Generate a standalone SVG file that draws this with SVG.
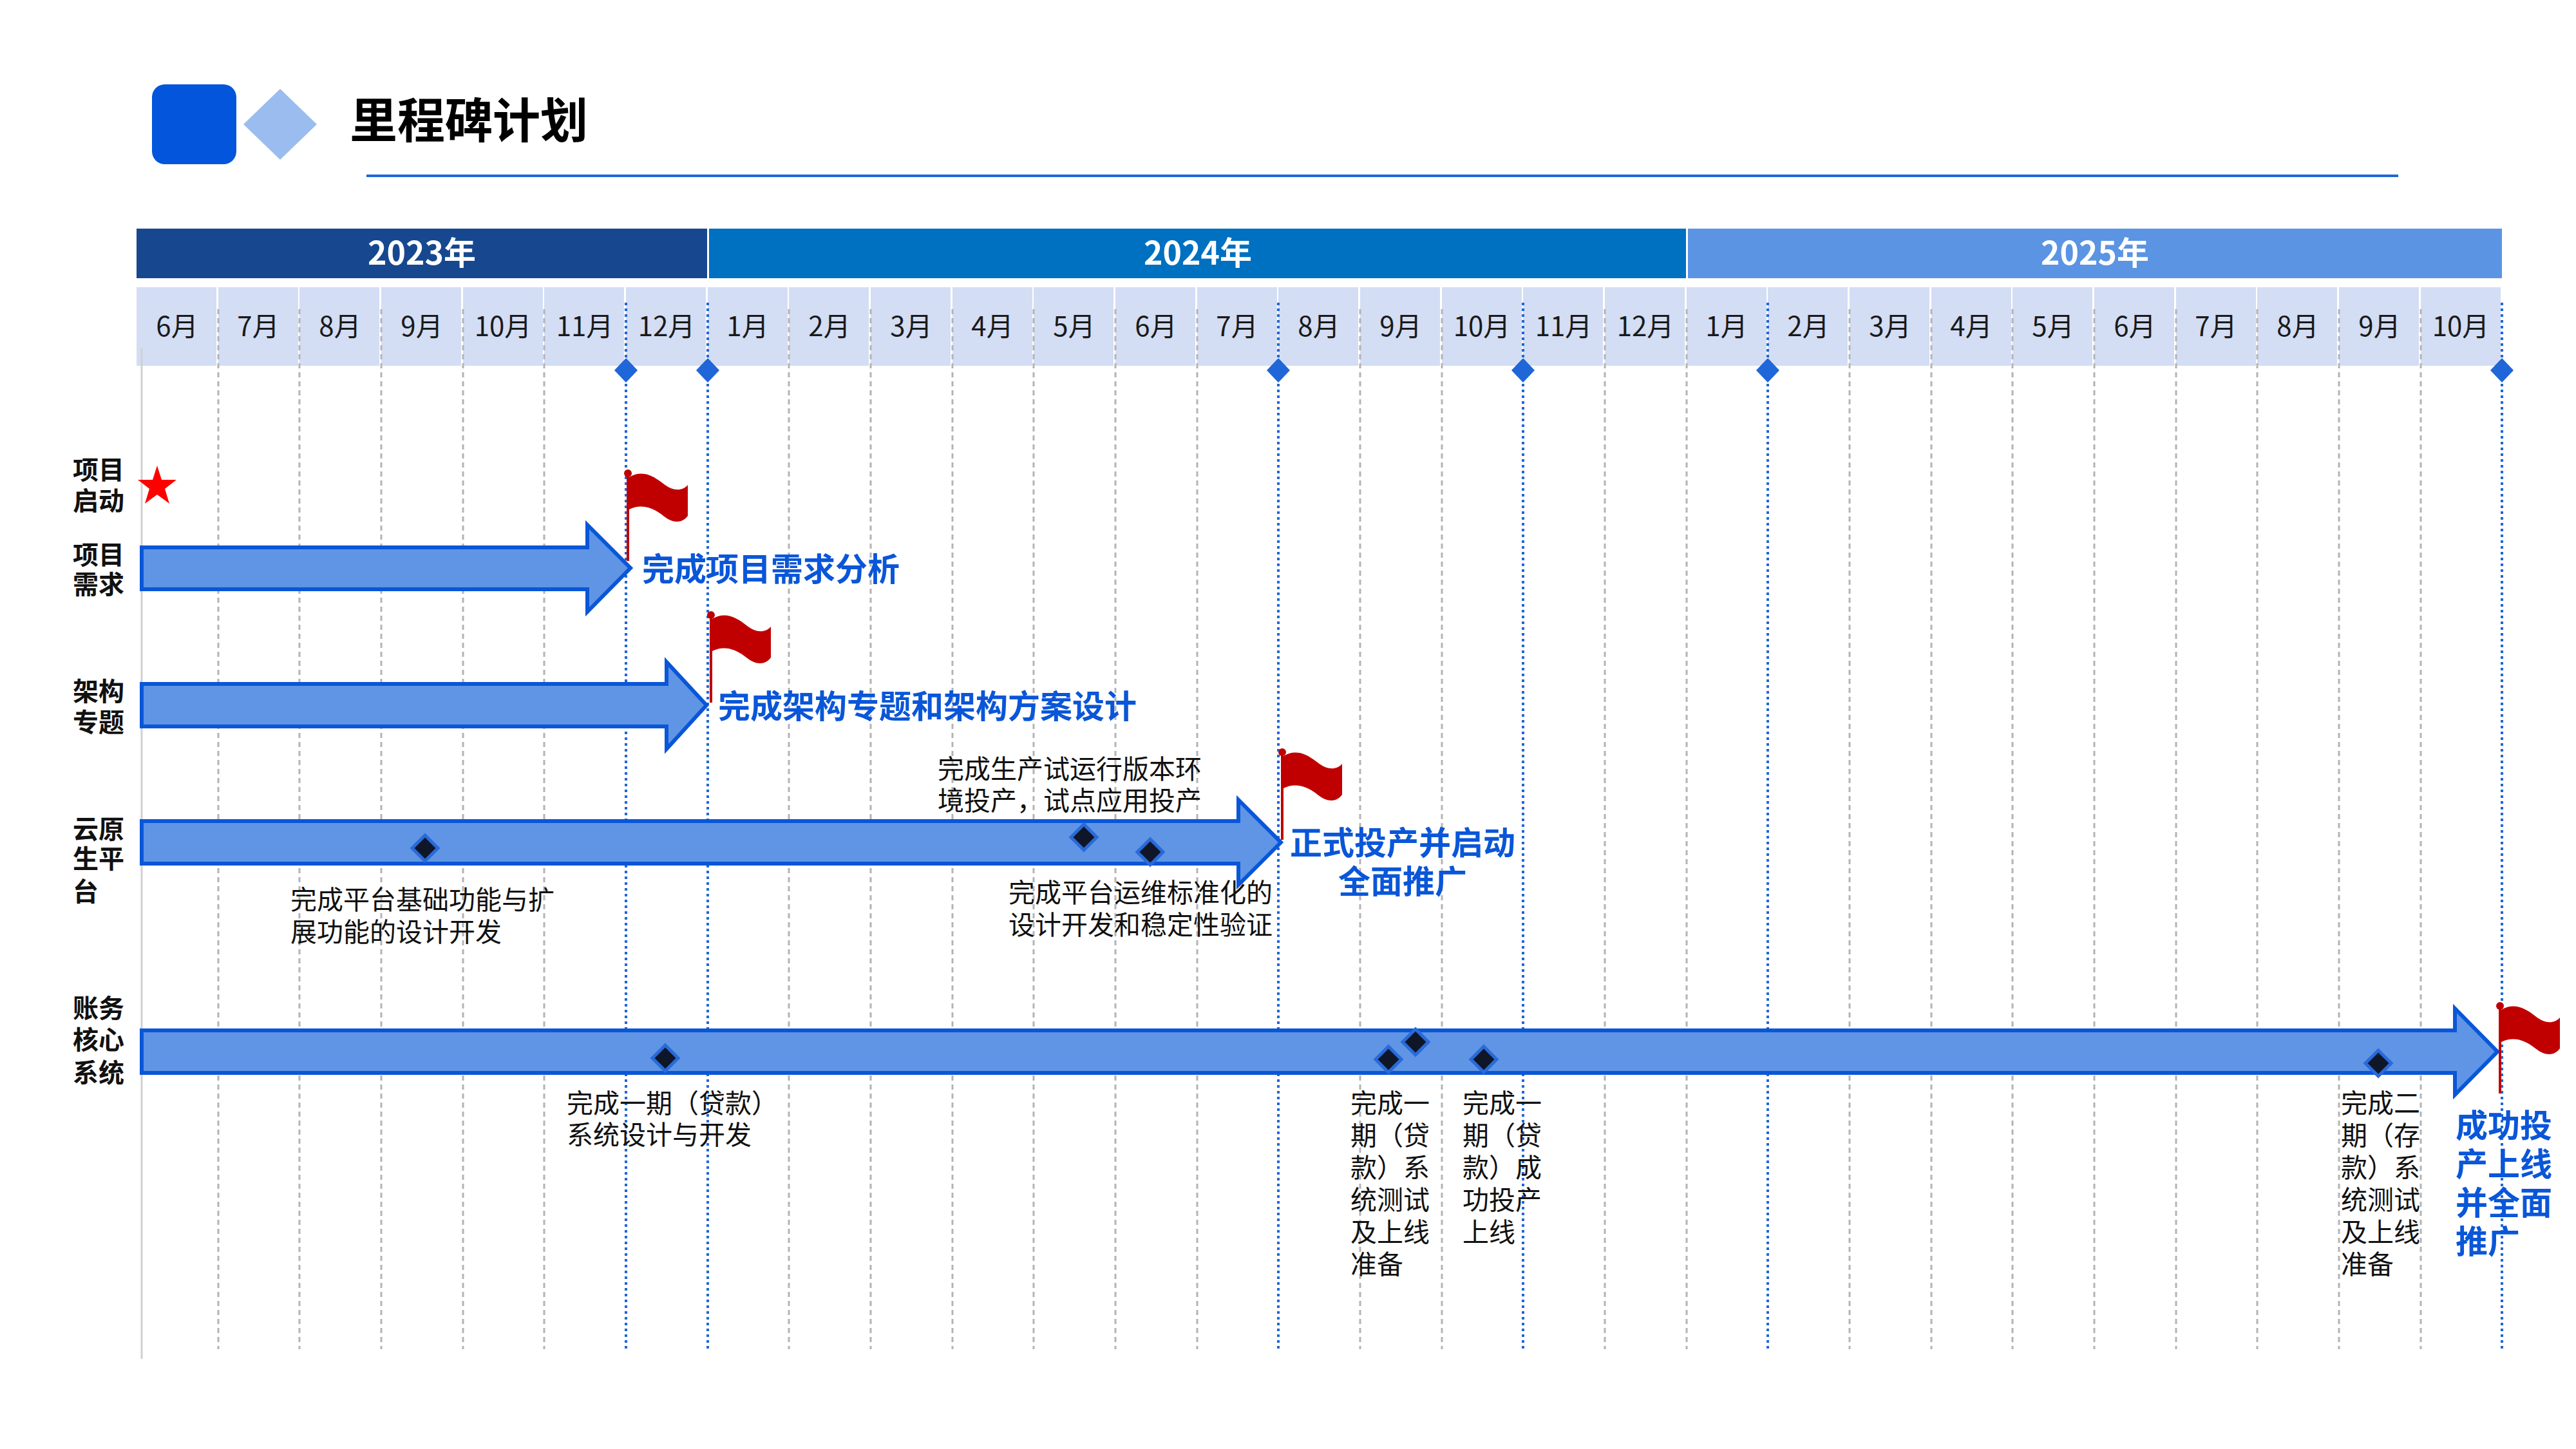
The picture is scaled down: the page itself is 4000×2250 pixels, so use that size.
<svg xmlns="http://www.w3.org/2000/svg" width="4000" height="2250" viewBox="0 0 4000 2250">
<style>
.mon{font-family:"Noto Sans CJK SC","Noto Sans",sans-serif;font-size:42px;fill:#1a1a1a;text-anchor:middle}
.yr{font-family:"Noto Sans CJK SC","Noto Sans",sans-serif;font-size:50px;font-weight:bold;fill:#fff;text-anchor:middle}
.row{font-family:"Noto Sans CJK SC",sans-serif;font-size:40px;font-weight:bold;fill:#111}
.note{font-family:"Noto Sans CJK SC",sans-serif;font-size:41px;fill:#111}
.ms{font-family:"Noto Sans CJK SC",sans-serif;font-size:50px;font-weight:bold;fill:#0a56d8}
.grid{stroke:#b4b4b4;stroke-width:3;stroke-dasharray:8 6}
.bl{stroke:#1f66d8;stroke-width:4;stroke-dasharray:4 5}
.arrow{fill:#5f95e4;stroke:#0a56d8;stroke-width:6;stroke-linejoin:miter}
.dm{fill:#0f1628;stroke:#2a6ad8;stroke-width:5}
.bd{fill:#1f66d8}
.cell{fill:#d3ddf4}
</style>
<defs>
<g id="flag">
<line x1="0" y1="0" x2="0" y2="138" stroke="#c00000" stroke-width="4"/>
<circle cx="0" cy="2" r="6" fill="#c00000"/>
<path d="M2,8 C22,-4 40,6 55,18 C70,30 84,30 93,20 L93,68 C84,80 70,80 55,68 C40,56 22,48 2,58 Z" fill="#c00000"/>
</g>
</defs>
<rect width="4000" height="2250" fill="#fff"/>
<g id="header">
<rect x="236" y="131" width="131" height="124" rx="20" fill="#0355db"/>
<polygon points="435,138 492,193 435,248 378,193" fill="#9bbcee"/>
<text x="543" y="214" font-family="Noto Sans CJK SC,sans-serif" font-size="74" font-weight="bold" fill="#000">里程碑计划</text>
<line x1="569" y1="273" x2="3724" y2="273" stroke="#1f66d8" stroke-width="4"/>
</g>
<g id="years">
<rect x="212" y="355" width="886" height="77" fill="#17488f"/>
<rect x="1101" y="355" width="1517" height="77" fill="#0070c0"/>
<rect x="2621" y="355" width="1264" height="77" fill="#5b94e3"/>
<text class="yr" x="655" y="411">2023年</text>
<text class="yr" x="1860" y="411">2024年</text>
<text class="yr" x="3253" y="411">2025年</text>
</g>
<g id="months">
<rect class="cell" x="212" y="446" width="124" height="122"/><text class="mon" x="275" y="522">6月</text>
<rect class="cell" x="339" y="446" width="124" height="122"/><text class="mon" x="401" y="522">7月</text>
<rect class="cell" x="465" y="446" width="124" height="122"/><text class="mon" x="528" y="522">8月</text>
<rect class="cell" x="592" y="446" width="124" height="122"/><text class="mon" x="655" y="522">9月</text>
<rect class="cell" x="719" y="446" width="124" height="122"/><text class="mon" x="781" y="522">10月</text>
<rect class="cell" x="845" y="446" width="124" height="122"/><text class="mon" x="908" y="522">11月</text>
<rect class="cell" x="972" y="446" width="124" height="122"/><text class="mon" x="1035" y="522">12月</text>
<rect class="cell" x="1099" y="446" width="124" height="122"/><text class="mon" x="1161" y="522">1月</text>
<rect class="cell" x="1225" y="446" width="124" height="122"/><text class="mon" x="1288" y="522">2月</text>
<rect class="cell" x="1352" y="446" width="124" height="122"/><text class="mon" x="1415" y="522">3月</text>
<rect class="cell" x="1479" y="446" width="124" height="122"/><text class="mon" x="1541" y="522">4月</text>
<rect class="cell" x="1605" y="446" width="124" height="122"/><text class="mon" x="1668" y="522">5月</text>
<rect class="cell" x="1732" y="446" width="124" height="122"/><text class="mon" x="1795" y="522">6月</text>
<rect class="cell" x="1859" y="446" width="124" height="122"/><text class="mon" x="1921" y="522">7月</text>
<rect class="cell" x="1985" y="446" width="124" height="122"/><text class="mon" x="2048" y="522">8月</text>
<rect class="cell" x="2112" y="446" width="124" height="122"/><text class="mon" x="2175" y="522">9月</text>
<rect class="cell" x="2239" y="446" width="124" height="122"/><text class="mon" x="2301" y="522">10月</text>
<rect class="cell" x="2365" y="446" width="124" height="122"/><text class="mon" x="2428" y="522">11月</text>
<rect class="cell" x="2492" y="446" width="124" height="122"/><text class="mon" x="2555" y="522">12月</text>
<rect class="cell" x="2619" y="446" width="124" height="122"/><text class="mon" x="2681" y="522">1月</text>
<rect class="cell" x="2745" y="446" width="124" height="122"/><text class="mon" x="2808" y="522">2月</text>
<rect class="cell" x="2872" y="446" width="124" height="122"/><text class="mon" x="2935" y="522">3月</text>
<rect class="cell" x="2999" y="446" width="124" height="122"/><text class="mon" x="3061" y="522">4月</text>
<rect class="cell" x="3125" y="446" width="124" height="122"/><text class="mon" x="3188" y="522">5月</text>
<rect class="cell" x="3252" y="446" width="124" height="122"/><text class="mon" x="3315" y="522">6月</text>
<rect class="cell" x="3379" y="446" width="124" height="122"/><text class="mon" x="3441" y="522">7月</text>
<rect class="cell" x="3505" y="446" width="124" height="122"/><text class="mon" x="3568" y="522">8月</text>
<rect class="cell" x="3632" y="446" width="124" height="122"/><text class="mon" x="3695" y="522">9月</text>
<rect class="cell" x="3759" y="446" width="124" height="122"/><text class="mon" x="3821" y="522">10月</text>
</g>
<g id="grid">
<line x1="220" y1="540" x2="220" y2="2110" stroke="#d0d0d0" stroke-width="3"/>
<path class="grid" d="M339,480V2095M465,480V2095M592,480V2095M719,480V2095M845,480V2095M1225,480V2095M1352,480V2095M1479,480V2095M1605,480V2095M1732,480V2095M1859,480V2095M2112,480V2095M2239,480V2095M2492,480V2095M2619,480V2095M2872,480V2095M2999,480V2095M3125,480V2095M3252,480V2095M3379,480V2095M3505,480V2095M3632,480V2095M3759,480V2095"/>
<path class="bl" d="M972,470V2095M1099,470V2095M1985,470V2095M2365,470V2095M2745,470V2095M3885,470V2095"/>
<polygon class="bd" points="972,556 990,575 972,594 954,575"/>
<polygon class="bd" points="1099,556 1117,575 1099,594 1081,575"/>
<polygon class="bd" points="1985,556 2003,575 1985,594 1967,575"/>
<polygon class="bd" points="2365,556 2383,575 2365,594 2347,575"/>
<polygon class="bd" points="2745,556 2763,575 2745,594 2727,575"/>
<polygon class="bd" points="3885,556 3903,575 3885,594 3867,575"/>
</g>
<g id="labels">
<text class="row" x="113" y="744">项目</text><text class="row" x="113" y="792">启动</text>
<text class="row" x="113" y="876">项目</text><text class="row" x="113" y="922">需求</text>
<text class="row" x="113" y="1088">架构</text><text class="row" x="113" y="1136">专题</text>
<text class="row" x="113" y="1302">云原</text><text class="row" x="113" y="1348">生平</text><text class="row" x="113" y="1399">台</text>
<text class="row" x="113" y="1580">账务</text><text class="row" x="113" y="1629">核心</text><text class="row" x="113" y="1680">系统</text>
</g>
<g id="start">
<polygon points="244,723 251,745 274,745 256,759 263,782 244,768 225,782 232,759 214,745 237,745" fill="#ff0000"/>
</g>
<g id="row-req">
<path class="arrow" d="M220,850H912V815L979,882L912,950V915H220Z"/>
<use href="#flag" x="975" y="733"/>
<text class="ms" x="997" y="902">完成项目需求分析</text>
</g>
<g id="row-arch">
<path class="arrow" d="M220,1062H1035V1028L1097,1095L1035,1163V1128H220Z"/>
<use href="#flag" x="1104" y="953"/>
<text class="ms" x="1115" y="1115">完成架构专题和架构方案设计</text>
</g>
<g id="row-cloud">
<path class="arrow" d="M220,1275H1923V1242L1989,1308L1923,1374V1341H220Z"/>
<use href="#flag" x="1991" y="1166"/>
<polygon class="dm" points="660,1297 680,1317 660,1337 640,1317"/>
<polygon class="dm" points="1683,1280 1703,1300 1683,1320 1663,1300"/>
<polygon class="dm" points="1786,1303 1806,1323 1786,1343 1766,1323"/>
<text class="note" x="451" y="1412">完成平台基础功能与扩</text>
<text class="note" x="451" y="1462">展功能的设计开发</text>
<text class="note" x="1456" y="1209">完成生产试运行版本环</text>
<text class="note" x="1456" y="1258">境投产，试点应用投产</text>
<text class="note" x="1566" y="1401">完成平台运维标准化的</text>
<text class="note" x="1566" y="1451">设计开发和稳定性验证</text>
<text class="ms" x="2178" y="1327" text-anchor="middle">正式投产并启动</text>
<text class="ms" x="2178" y="1387" text-anchor="middle">全面推广</text>
</g>
<g id="row-core">
<path class="arrow" d="M220,1600H3812V1566L3878,1633L3812,1700V1666H220Z"/>
<use href="#flag" x="3882" y="1560"/>
<polygon class="dm" points="1033,1623 1053,1643 1033,1663 1013,1643"/>
<polygon class="dm" points="2156,1625 2176,1645 2156,1665 2136,1645"/>
<polygon class="dm" points="2198,1598 2218,1618 2198,1638 2178,1618"/>
<polygon class="dm" points="2304,1625 2324,1645 2304,1665 2284,1645"/>
<polygon class="dm" points="3693,1631 3713,1651 3693,1671 3673,1651"/>
<text class="note" x="880" y="1728">完成一期（贷款）</text>
<text class="note" x="880" y="1777">系统设计与开发</text>
<text class="note" x="2097" y="1728"><tspan x="2097">完成一</tspan><tspan x="2097" dy="50">期（贷</tspan><tspan x="2097" dy="50">款）系</tspan><tspan x="2097" dy="50">统测试</tspan><tspan x="2097" dy="50">及上线</tspan><tspan x="2097" dy="50">准备</tspan></text>
<text class="note" x="2271" y="1728"><tspan x="2271">完成一</tspan><tspan x="2271" dy="50">期（贷</tspan><tspan x="2271" dy="50">款）成</tspan><tspan x="2271" dy="50">功投产</tspan><tspan x="2271" dy="50">上线</tspan></text>
<text class="note" x="3635" y="1728"><tspan x="3635">完成二</tspan><tspan x="3635" dy="50">期（存</tspan><tspan x="3635" dy="50">款）系</tspan><tspan x="3635" dy="50">统测试</tspan><tspan x="3635" dy="50">及上线</tspan><tspan x="3635" dy="50">准备</tspan></text>
<text class="ms" x="3813" y="1766"><tspan x="3813">成功投</tspan><tspan x="3813" dy="60">产上线</tspan><tspan x="3813" dy="60">并全面</tspan><tspan x="3813" dy="60">推广</tspan></text>
</g>
</svg>
